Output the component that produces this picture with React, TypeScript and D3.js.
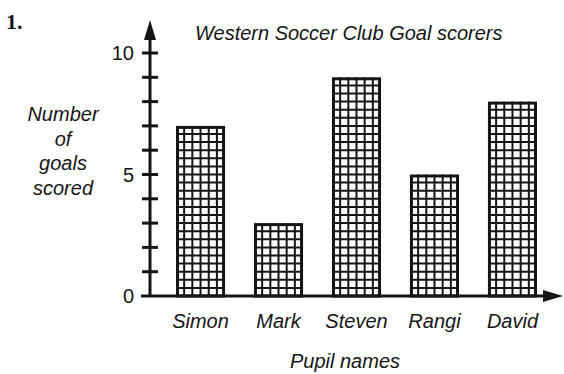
import React from "react";
import * as d3 from "d3";

const pupils = ["Simon", "Mark", "Steven", "Rangi", "David"];
const goals = [7, 3, 9, 5, 8];
const yTickLabels = [0, 5, 10];
const yLabelLines = ["Number", "of", "goals", "scored"];

export default function App() {
  const W = 564, H = 374;
  const x0 = 150, y0 = 296;
  const y = d3.scaleLinear().domain([0, 10]).range([y0, 53]);
  const x = d3.scaleBand<string>().domain(pupils).range([176, 537]).paddingInner(0.371).paddingOuter(0);
  const bw = x.bandwidth();
  const font = "'Liberation Sans', Arial, Helvetica, sans-serif";
  const ink = "#151515";
  const minorTicks = d3.range(1, 11);

  return (
    <div style={{ position: "absolute", left: 0, top: 0 }}>
      <svg width={W} height={H} style={{ display: "block", background: "#fff" }}>
        <text x={6} y={29} fontFamily="'Liberation Serif', 'DejaVu Serif', serif" fontWeight="bold" fontSize={22} fill={ink}>1.</text>
        <text x={195} y={40} fontFamily={font} fontStyle="italic" fontSize={20} fill={ink}>Western Soccer Club Goal scorers</text>

        {pupils.map((p, i) => {
          const bx = x(p)!;
          const top = y(goals[i]);
          const h = y0 - top;
          const cols = 6;
          const vLines = d3.range(1, cols).map(k => bx + (k * bw) / cols);
          const nRows = goals[i] * 3;
          const hLines = d3.range(1, nRows).map(k => y0 - (k * h) / nRows);
          return (
            <g key={p}>
              {vLines.map((vx, k) => (
                <line key={"v" + k} x1={vx} x2={vx} y1={top} y2={y0} stroke={ink} strokeWidth={2} />
              ))}
              {hLines.map((hy, k) => (
                <line key={"h" + k} x1={bx} x2={bx + bw} y1={hy} y2={hy} stroke={ink} strokeWidth={2} />
              ))}
              <rect x={bx + 1.5} y={top + 1.5} width={bw - 3} height={h - 1.5} fill="none" stroke={ink} strokeWidth={3} />
              <text x={bx + bw / 2} y={328} textAnchor="middle" fontFamily={font} fontStyle="italic" fontSize={20} fill={ink}>{p}</text>
            </g>
          );
        })}

        {/* y axis */}
        <line x1={x0} x2={x0} y1={y0 + 1} y2={36} stroke={ink} strokeWidth={3} />
        <path d={`M${x0},20 L${x0 - 6},40 L${x0 + 6},40 Z`} fill={ink} />
        {minorTicks.map(t => (
          <line key={t} x1={x0 - 8} x2={x0 + 8} y1={y(t)} y2={y(t)} stroke={ink} strokeWidth={3} />
        ))}
        {yTickLabels.map(t => (
          <text key={t} x={x0 - 16} y={y(t) + 7} textAnchor="end" fontFamily={font} fontSize={20} fill={ink}>{t}</text>
        ))}

        {/* x axis */}
        <line x1={141} x2={545} y1={y0} y2={y0} stroke={ink} strokeWidth={3} />
        <path d={`M563,${y0} L543,${y0 - 6} L543,${y0 + 6} Z`} fill={ink} />

        {yLabelLines.map((l, i) => (
          <text key={l} x={63} y={121 + i * 24.5} textAnchor="middle" fontFamily={font} fontStyle="italic" fontSize={20} fill={ink}>{l}</text>
        ))}
        <text x={345} y={368} textAnchor="middle" fontFamily={font} fontStyle="italic" fontSize={20} fill={ink}>Pupil names</text>
      </svg>
    </div>
  );
}
